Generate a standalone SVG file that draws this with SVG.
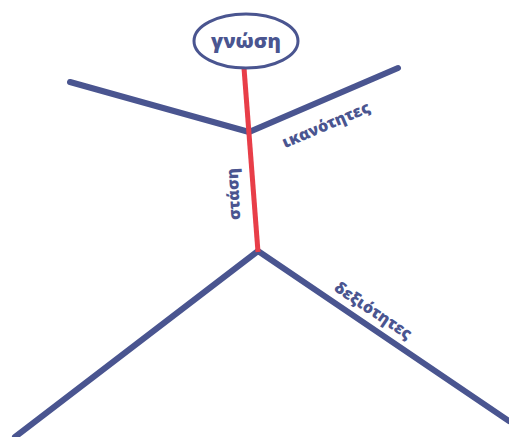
<svg xmlns="http://www.w3.org/2000/svg" width="509" height="437" viewBox="0 0 509 437">
<style>
.blue{stroke:#4a5590;stroke-width:6;fill:none;stroke-linecap:round;stroke-linejoin:miter}
.red{stroke:#e83e48;stroke-width:5;fill:none}
.lbl{font-family:"Open Sans","Noto Sans",sans-serif;font-weight:800;fill:#4a5590;font-size:16px;text-anchor:middle}
</style>
<rect width="509" height="437" fill="#ffffff"/>
<g id="connectors">
<polyline class="blue" points="70,82 249,132 398,68"/>
<polyline class="blue" points="15,437 258,251 509,421"/>
<line class="red" x1="244" y1="68" x2="258" y2="252"/>
</g>
<g id="node-gnosi">
<ellipse cx="246" cy="41" rx="52" ry="27" fill="#ffffff" stroke="#4a5590" stroke-width="3"/>
<text class="lbl" x="246" y="48" style="font-size:20px">γνώση</text>
</g>
<g id="label-ikanotites">
<text class="lbl" transform="translate(328,130) rotate(-23)">ικανότητες</text>
</g>
<g id="label-stasi">
<text class="lbl" transform="translate(239,194) rotate(-93)">στάση</text>
</g>
<g id="label-dexiotites">
<text class="lbl" transform="translate(370,315) rotate(34)">δεξιότητες</text>
</g>
</svg>
